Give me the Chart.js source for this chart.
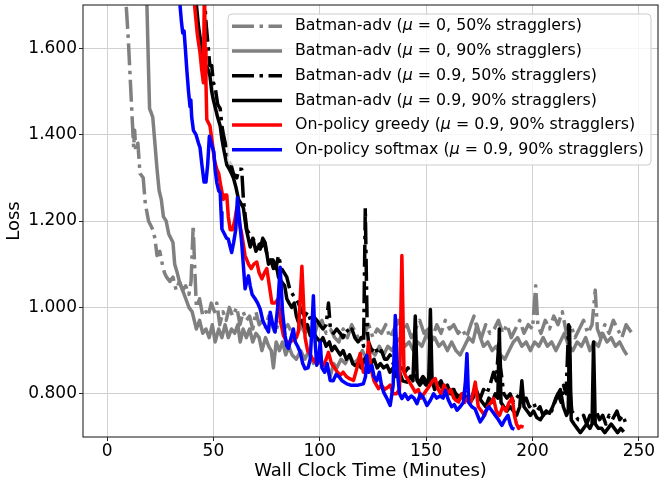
<!DOCTYPE html>
<html>
<head>
<meta charset="utf-8">
<script src="https://cdn.jsdelivr.net/npm/chart.js@4/dist/chart.umd.min.js"></script>
<style>
  html, body { margin: 0; padding: 0; background: #fff; }
  canvas { display: block; }
</style>
</head>
<body>
<canvas id="lossChart" width="665" height="488"></canvas>
<script>
const xTicks = [0, 50, 100, 150, 200, 250];
const yTicks = [0.8, 1.0, 1.2, 1.4, 1.6];

const seriesLabels = [
  "Batman-adv (μ = 0, 50% stragglers)",
  "Batman-adv (μ = 0, 90% stragglers)",
  "Batman-adv (μ = 0.9, 50% stragglers)",
  "Batman-adv (μ = 0.9, 90% stragglers)",
  "On-policy greedy (μ = 0.9, 90% stragglers)",
  "On-policy softmax (μ = 0.9, 90% stragglers)"
];

// Batman-adv, mu = 0, 50% stragglers
const mu0s50X = [8, 9, 10, 11, 12, 12.5, 13, 13.5, 14.5, 15.5, 17, 18, 19.5, 20.5, 21.5, 22.5, 23.5, 24.8, 26, 27, 28, 29.5, 31, 32.5, 34, 35.5, 37, 38.5, 39.5, 40.5, 41, 42, 43.5, 45, 46.5, 47.5, 49, 50.5, 51.6, 53, 54.5, 56, 57.5, 59, 61, 62.5, 64, 65.5, 67, 68.5, 70, 71.5, 73, 74.3, 76, 77.5, 79, 81, 83, 85, 87, 89, 91, 93, 95, 97, 99, 101, 103, 105, 107, 109, 111, 113, 115, 117, 119, 121, 123, 125, 127, 129, 131, 133, 135, 137, 139, 141, 143, 145, 147, 149, 151, 153, 155, 157, 159, 161, 163, 165, 167, 169, 171, 172.5, 174, 176, 178, 180, 182, 184, 186, 188, 190, 192, 194, 196, 198, 200, 201.5, 202.5, 204, 206, 208, 210, 212, 214, 216, 218, 220, 222, 224, 226, 228, 229.5, 230.5, 232, 234, 236, 238, 240, 242, 244, 246.8];
const mu0s50Y = [1.78, 1.70, 1.62, 1.52, 1.42, 1.37, 1.41, 1.36, 1.38, 1.31, 1.30, 1.24, 1.20, 1.19, 1.18, 1.16, 1.12, 1.13, 1.10, 1.08, 1.07, 1.06, 1.07, 1.04, 1.06, 1.04, 1.05, 1.03, 1.06, 1.19, 1.12, 1.00, 1.02, 0.98, 0.99, 0.98, 1.01, 0.99, 1.01, 0.96, 0.99, 0.97, 1.00, 0.98, 1.00, 0.96, 0.99, 0.97, 0.98, 0.95, 0.99, 0.96, 0.97, 0.95, 0.98, 0.96, 0.94, 0.97, 0.95, 0.96, 0.94, 0.93, 0.96, 0.94, 0.95, 0.93, 0.96, 0.97, 0.94, 0.95, 0.93, 0.92, 0.95, 0.93, 0.96, 0.94, 0.92, 0.94, 0.96, 0.93, 0.95, 0.94, 0.96, 0.93, 0.95, 0.97, 0.94, 0.96, 0.93, 0.95, 0.97, 0.94, 0.95, 0.93, 0.96, 0.94, 0.97, 0.95, 0.96, 0.94, 0.95, 0.93, 0.96, 0.98, 0.95, 0.93, 0.96, 0.94, 0.95, 0.97, 0.94, 0.96, 0.93, 0.95, 0.97, 0.94, 0.96, 0.95, 1.05, 0.96, 0.94, 0.97, 0.95, 0.98, 0.96, 0.99, 0.94, 0.96, 0.93, 0.95, 0.97, 0.94, 0.96, 1.04, 0.95, 0.93, 0.96, 0.94, 0.97, 0.95, 0.93, 0.96, 0.94];

// Batman-adv, mu = 0, 90% stragglers
const mu0s90X = [18.5, 19, 19.5, 20, 20.8, 21.5, 22.5, 23.5, 24.5, 25.5, 26.5, 27.8, 29, 30, 31, 31.8, 33, 34, 35.5, 37, 38.5, 40, 41, 42, 43.5, 45, 46.5, 48, 49.5, 50.8, 52.5, 54, 55.5, 57, 58.5, 60, 61.5, 62.6, 64, 65.5, 67, 68.5, 70, 71.5, 72.8, 74.5, 76, 77.2, 78.2, 79.5, 81, 82.5, 84, 85.5, 87, 89, 91, 93, 95, 97, 99, 101, 103, 104.9, 106.5, 108, 110, 112, 114, 116, 118, 120, 122, 124, 126, 128, 130, 132, 134, 136, 138, 140, 142, 144, 146, 148, 150.4, 152, 154, 156, 158, 160, 162, 164, 166, 168, 170, 172, 173.9, 175.5, 177, 179, 181, 183, 185, 187, 189, 191, 193, 195, 197, 199, 201, 203, 205, 207, 209, 211, 213, 215, 217, 219, 221, 223, 225, 227, 229, 231, 233, 235, 237, 239, 241, 243, 244.4];
const mu0s90Y = [1.75, 1.65, 1.55, 1.46, 1.45, 1.44, 1.38, 1.32, 1.27, 1.25, 1.21, 1.20, 1.17, 1.16, 1.15, 1.10, 1.08, 1.06, 1.04, 1.02, 1.00, 0.99, 0.97, 0.95, 0.97, 0.94, 0.95, 0.93, 0.96, 0.92, 0.95, 0.93, 0.96, 0.93, 0.95, 0.94, 0.96, 0.92, 0.95, 0.93, 0.95, 0.92, 0.94, 0.93, 0.90, 0.93, 0.91, 0.90, 0.86, 0.92, 0.90, 0.92, 0.89, 0.91, 0.89, 0.88, 0.90, 0.88, 0.90, 0.87, 0.89, 0.87, 0.86, 0.84, 0.87, 0.86, 0.88, 0.87, 0.89, 0.87, 0.88, 0.90, 0.88, 0.90, 0.89, 0.91, 0.89, 0.91, 0.90, 0.92, 0.93, 0.91, 0.92, 0.90, 0.92, 0.91, 0.94, 0.92, 0.93, 0.91, 0.92, 0.90, 0.92, 0.90, 0.89, 0.91, 0.93, 0.92, 0.96, 0.93, 0.91, 0.92, 0.90, 0.91, 0.89, 0.88, 0.90, 0.92, 0.93, 0.91, 0.92, 0.90, 0.92, 0.91, 0.93, 0.91, 0.92, 0.90, 0.92, 0.94, 0.91, 0.90, 0.92, 0.91, 0.93, 0.90, 0.92, 0.91, 0.94, 0.92, 0.93, 0.91, 0.92, 0.90, 0.89];

// Batman-adv, mu = 0.9, 50% stragglers
const mu9s50X = [45.5, 46.5, 47.6, 48.3, 49.2, 50, 50.8, 52, 53.2, 54, 54.7, 56, 57.1, 58.3, 59.4, 61, 62, 63.3, 64.1, 65, 65.7, 67, 68.5, 69.6, 71, 72.5, 74, 75.3, 76.7, 78, 79.3, 80.6, 82, 83.3, 84.5, 86, 87.3, 88.7, 90, 91.5, 93, 94.3, 95.7, 97, 98.6, 100, 101.5, 103, 104.1, 105, 106.5, 108, 109.6, 111, 112.5, 114, 115.1, 116.5, 118, 119.5, 120.6, 121.4, 122.3, 122.9, 124.5, 126, 127.5, 129, 130.5, 131.6, 133, 134.5, 136, 137.5, 138.6, 140, 141.5, 143, 144.5, 146, 147.2, 148.5, 150, 151.5, 153, 154.5, 156.6, 158, 159.5, 161, 162.5, 164, 166, 167.5, 169, 170.5, 172, 173.9, 175.5, 177, 178.5, 180, 181.7, 183, 184.2, 185, 186.5, 188, 189.5, 191.1, 192.5, 194, 195.5, 197, 198.5, 200.5, 202, 203.5, 205, 206.5, 207.6, 209, 210.5, 212, 213.5, 214.6, 215.8, 217, 217.8, 218.5, 220, 221.5, 222.5, 224, 225.5, 227, 228.5, 230, 231.5, 233, 234.5, 236, 237.5, 239.7, 241, 242.5, 243.6];
const mu9s50Y = [1.75, 1.66, 1.60, 1.56, 1.56, 1.52, 1.51, 1.47, 1.46, 1.42, 1.40, 1.37, 1.34, 1.33, 1.31, 1.30, 1.32, 1.32, 1.25, 1.21, 1.18, 1.17, 1.16, 1.15, 1.15, 1.14, 1.15, 1.12, 1.10, 1.11, 1.09, 1.12, 1.09, 1.08, 1.07, 1.04, 1.03, 1.02, 1.01, 0.99, 0.98, 0.99, 0.97, 0.98, 0.97, 0.96, 0.95, 0.96, 1.01, 0.95, 0.94, 0.95, 0.94, 0.93, 0.95, 0.94, 0.95, 0.93, 0.92, 0.93, 0.91, 1.23, 0.95, 0.92, 0.90, 0.91, 0.89, 0.90, 0.88, 0.88, 0.89, 0.87, 0.88, 0.86, 0.86, 0.85, 0.86, 0.84, 0.85, 0.83, 0.83, 0.84, 0.83, 0.82, 0.84, 0.82, 0.82, 0.81, 0.82, 0.80, 0.81, 0.80, 0.79, 0.80, 0.81, 0.79, 0.80, 0.80, 0.79, 0.81, 0.80, 0.82, 0.85, 0.83, 0.92, 0.86, 0.80, 0.79, 0.80, 0.78, 0.79, 0.80, 0.78, 0.79, 0.77, 0.78, 0.76, 0.77, 0.75, 0.76, 0.75, 0.76, 0.78, 0.80, 0.78, 0.82, 0.80, 0.96, 0.80, 0.76, 0.75, 0.74, 0.74, 0.75, 0.73, 0.75, 0.74, 0.76, 0.74, 0.75, 0.73, 0.75, 0.74, 0.76, 0.74, 0.75, 0.735];

// Batman-adv, mu = 0.9, 90% stragglers
const mu9s90X = [41, 42, 43, 44.5, 45.3, 46.5, 47.5, 48.4, 49.2, 50, 51, 52, 53.2, 54, 54.7, 55.5, 56.3, 57.5, 58.5, 59.4, 60.5, 61.8, 63, 64.1, 65.5, 67.3, 68.5, 70, 71, 72, 73.2, 74.3, 75.9, 77, 78.2, 79.5, 80.6, 82, 83.5, 84.5, 85.6, 86.8, 88, 89, 90, 91.5, 93, 94.2, 95.5, 97, 98.5, 100.2, 101.5, 103, 104.5, 105.7, 107, 108.3, 109.6, 111, 112.5, 114, 115.5, 116.7, 118, 119.5, 121, 122.5, 124, 125.5, 127, 128.5, 130, 131.6, 133, 134.5, 136, 137.5, 139, 141, 142.5, 143.8, 144.9, 145.8, 147, 148.5, 150, 151.2, 152, 152.8, 154, 155.5, 157, 158.5, 160, 161.5, 163, 164.5, 166, 167.5, 169, 170.5, 172, 173.5, 175, 176.5, 178, 179.5, 181, 182.5, 183.7, 184.4, 185.2, 186.5, 188, 189.5, 191, 192.5, 194, 195, 196, 197.5, 199, 200.5, 202, 203.7, 205, 206.5, 208, 209.5, 211, 212, 213.1, 214.5, 216, 216.8, 217.4, 218.2, 219.5, 221, 222.5, 224, 225.5, 227, 228, 228.7, 229.5, 231, 232.5, 234, 235.5, 237, 238.5, 240, 241.5, 242.9];
const mu9s90Y = [1.75, 1.70, 1.65, 1.60, 1.58, 1.56, 1.55, 1.535, 1.50, 1.48, 1.46, 1.44, 1.42, 1.39, 1.37, 1.35, 1.33, 1.32, 1.31, 1.30, 1.28, 1.25, 1.24, 1.23, 1.18, 1.14, 1.16, 1.13, 1.14, 1.135, 1.16, 1.15, 1.10, 1.11, 1.09, 1.10, 1.07, 1.06, 1.05, 1.02, 1.01, 1.00, 1.01, 0.98, 0.965, 0.97, 0.95, 0.96, 0.935, 0.94, 0.93, 0.92, 0.93, 0.91, 0.92, 0.90, 0.91, 0.90, 0.89, 0.90, 0.88, 0.89, 0.87, 0.865, 0.87, 0.86, 0.88, 0.89, 0.87, 0.88, 0.86, 0.87, 0.86, 0.866, 0.85, 0.86, 0.84, 0.85, 0.83, 0.827, 0.84, 0.83, 0.98, 0.83, 0.82, 0.83, 0.82, 0.83, 0.995, 0.83, 0.81, 0.82, 0.83, 0.81, 0.82, 0.80, 0.81, 0.79, 0.796, 0.80, 0.79, 0.78, 0.79, 0.81, 0.79, 0.78, 0.77, 0.79, 0.78, 0.80, 0.79, 0.95, 0.78, 0.77, 0.76, 0.77, 0.76, 0.75, 0.77, 0.83, 0.77, 0.76, 0.75, 0.76, 0.745, 0.74, 0.75, 0.76, 0.755, 0.77, 0.79, 0.80, 0.81, 0.77, 0.75, 0.76, 0.955, 0.74, 0.73, 0.72, 0.71, 0.72, 0.73, 0.72, 0.73, 0.92, 0.73, 0.72, 0.72, 0.71, 0.72, 0.73, 0.72, 0.71, 0.72, 0.712];

// On-policy greedy
const greedyX = [40.3, 41.5, 42.5, 43.7, 44.5, 45.3, 45.8, 46.1, 46.5, 46.9, 48.4, 49.5, 50.5, 51.6, 52.5, 53.5, 54.7, 55.5, 56.3, 57, 57.9, 59, 60, 61, 62, 63.3, 64.9, 66.5, 67.8, 69, 70.4, 71.5, 72.8, 74, 75.1, 76.3, 77.5, 79, 80.5, 81.5, 82.9, 84.5, 86.1, 87.5, 89, 90, 91.6, 93.1, 94.3, 95.5, 96.7, 97.8, 99, 100.5, 101.8, 103, 104.1, 105.5, 107, 108.3, 109.6, 111, 112.5, 114, 115.9, 117.5, 119, 120.5, 122, 122.9, 124, 125.5, 127.6, 129, 130.5, 132, 133.1, 134.5, 136, 137.5, 138.6, 139.6, 140.5, 141.8, 143, 144.9, 146.3, 147.6, 149, 150.4, 151.8, 153, 154.3, 155.7, 157, 158.5, 160, 161.5, 163, 164, 165.3, 166.7, 168, 169.5, 171, 172, 173.1, 174.5, 176, 177.5, 179, 180.5, 181.7, 183, 184.5, 186, 187.5, 189, 190.5, 191.5, 192.5, 193.5, 194.5, 195.8];
const greedyY = [1.75, 1.68, 1.63, 1.59, 1.55, 1.52, 1.76, 1.60, 1.52, 1.435, 1.42, 1.38, 1.34, 1.32, 1.31, 1.28, 1.25, 1.26, 1.26, 1.21, 1.18, 1.18, 1.20, 1.23, 1.20, 1.17, 1.12, 1.10, 1.09, 1.10, 1.105, 1.08, 1.066, 1.08, 1.09, 1.05, 1.01, 1.01, 1.02, 0.97, 0.935, 0.92, 0.92, 0.925, 0.93, 0.945, 1.095, 0.93, 0.90, 0.89, 0.88, 0.873, 0.89, 0.87, 0.866, 0.88, 0.896, 0.87, 0.86, 0.85, 0.843, 0.85, 0.84, 0.835, 0.831, 0.86, 0.893, 0.85, 0.86, 0.92, 0.86, 0.83, 0.812, 0.82, 0.81, 0.815, 0.82, 0.80, 0.80, 0.81, 1.12, 0.85, 0.84, 0.83, 0.82, 0.804, 0.81, 0.79, 0.80, 0.81, 0.82, 0.83, 0.835, 0.81, 0.80, 0.82, 0.80, 0.81, 0.79, 0.785, 0.781, 0.80, 0.78, 0.79, 0.78, 0.80, 0.827, 0.77, 0.76, 0.75, 0.77, 0.78, 0.789, 0.76, 0.75, 0.77, 0.76, 0.78, 0.79, 0.75, 0.73, 0.72, 0.725, 0.723];

// On-policy softmax
const softmaxX = [34.3, 35, 35.6, 36.2, 36.8, 37.5, 38.3, 39, 39.4, 39.8, 40.6, 41.8, 43, 43.7, 44.6, 45.6, 46.5, 47.3, 48.1, 49, 50.2, 50.8, 51.6, 52.5, 53.2, 53.6, 54, 55.2, 56.2, 57, 57.9, 58.6, 59.5, 60.5, 61.3, 62.3, 63.3, 64.1, 64.9, 65.7, 66.5, 67.3, 68.2, 69.6, 70.8, 72, 73.2, 74.3, 75.9, 76.7, 77.9, 79, 80.2, 81.4, 82.5, 83.7, 84.5, 85.3, 86.5, 87.6, 88.5, 89.6, 90.8, 92, 93.1, 94.5, 95.5, 96.3, 97, 97.8, 98.6, 99.5, 100.2, 101, 102.3, 103.5, 104.9, 106.3, 107.7, 109, 110.5, 112.7, 114.5, 116, 118, 120.5, 121.5, 122.1, 123, 124.5, 125.5, 126.8, 128, 129, 130, 131.5, 133.1, 134.5, 135.5, 136.5, 137.5, 138.6, 140, 141.5, 143, 144.3, 145.7, 147.3, 148.8, 150.4, 152, 153.5, 155, 156.5, 158, 159, 160.5, 162, 163.2, 164.5, 166, 167.5, 168.5, 169.2, 170, 171.5, 173, 174.2, 175.4, 176.8, 178, 179.5, 181, 182.5, 184, 185.6, 187, 188.5, 189.5, 190.4, 191.5];
const softmaxY = [1.70, 1.66, 1.635, 1.64, 1.60, 1.55, 1.50, 1.465, 1.48, 1.44, 1.41, 1.40, 1.38, 1.37, 1.33, 1.29, 1.29, 1.33, 1.396, 1.38, 1.36, 1.32, 1.289, 1.27, 1.266, 1.22, 1.181, 1.17, 1.16, 1.158, 1.14, 1.127, 1.15, 1.18, 1.254, 1.20, 1.15, 1.096, 1.043, 1.06, 1.073, 1.05, 1.03, 1.02, 1.01, 0.996, 0.97, 0.958, 0.943, 0.989, 0.96, 0.943, 1.00, 1.093, 0.99, 0.935, 0.91, 0.905, 0.93, 0.95, 0.92, 0.91, 0.896, 0.87, 0.858, 0.86, 0.88, 0.95, 1.027, 0.92, 0.866, 0.88, 0.92, 0.86, 0.85, 0.87, 0.831, 0.83, 0.845, 0.84, 0.83, 0.823, 0.82, 0.82, 0.82, 0.823, 0.84, 0.889, 0.85, 0.866, 0.84, 0.83, 0.85, 0.82, 0.804, 0.79, 0.773, 0.82, 0.981, 0.85, 0.80, 0.789, 0.80, 0.787, 0.795, 0.79, 0.777, 0.80, 0.79, 0.773, 0.785, 0.80, 0.79, 0.795, 0.79, 0.808, 0.785, 0.77, 0.775, 0.762, 0.77, 0.78, 0.83, 0.893, 0.78, 0.77, 0.765, 0.75, 0.735, 0.745, 0.76, 0.77, 0.76, 0.75, 0.74, 0.727, 0.74, 0.75, 0.73, 0.72, 0.718];

const seriesX = [mu0s50X, mu0s90X, mu9s50X, mu9s90X, greedyX, softmaxX];
const seriesY = [mu0s50Y, mu0s90Y, mu9s50Y, mu9s90Y, greedyY, softmaxY];
const seriesColors = ["#808080", "#808080", "#000000", "#000000", "#ff0000", "#0000ff"];
const dashDot = [22, 5.5, 3.5, 5.5];
const seriesDash = [dashDot, [], dashDot, [], [], []];

const FONT = "'DejaVu Sans', 'Liberation Sans', sans-serif";

const datasets = seriesLabels.map((label, i) => ({
  label: label,
  data: seriesX[i].map((x, j) => ({ x: x, y: seriesY[i][j] })),
  borderColor: seriesColors[i],
  borderDash: seriesDash[i],
  borderWidth: 3.5,
  borderJoinStyle: "round",
  pointRadius: 0,
  tension: 0,
  fill: false,
  clip: 0,
  order: seriesLabels.length - i
}));

// box round the axes, drawn over the lines like matplotlib spines
const framePlugin = {
  id: "frame",
  afterDatasetsDraw(chart) {
    const a = chart.chartArea;
    const ctx = chart.ctx;
    ctx.save();
    ctx.strokeStyle = "#262626";
    ctx.lineWidth = 1.1;
    ctx.strokeRect(a.left, a.top, a.right - a.left, a.bottom - a.top);
    ctx.restore();
  }
};

// legend in the upper right corner, with an italic mu
const legendPlugin = {
  id: "boxLegend",
  afterDraw(chart) {
    const ctx = chart.ctx;
    const box = { x: 228, y: 14, w: 423, h: 151 };
    ctx.save();
    ctx.beginPath();
    ctx.roundRect(box.x, box.y, box.w, box.h, 4);
    ctx.fillStyle = "rgba(255,255,255,0.8)";
    ctx.fill();
    ctx.strokeStyle = "#cccccc";
    ctx.lineWidth = 1;
    ctx.stroke();

    const fontSize = 15.8;
    chart.data.datasets.forEach((ds, i) => {
      const y = 26.3 + i * 24.7;
      ctx.beginPath();
      ctx.setLineDash(ds.borderDash);
      ctx.strokeStyle = ds.borderColor;
      ctx.lineWidth = ds.borderWidth;
      ctx.moveTo(232, y);
      ctx.lineTo(282, y);
      ctx.stroke();
      ctx.setLineDash([]);

      ctx.fillStyle = "#000";
      ctx.textBaseline = "middle";
      ctx.textAlign = "left";
      const parts = ds.label.split("μ");
      let x = 295;
      parts.forEach((p, k) => {
        ctx.font = fontSize + "px " + FONT;
        ctx.fillText(p, x, y);
        x += ctx.measureText(p).width;
        if (k < parts.length - 1) {
          ctx.font = "italic " + fontSize + "px " + FONT;
          ctx.fillText("μ", x, y);
          x += ctx.measureText("μ").width;
        }
      });
    });
    ctx.restore();
  }
};

new Chart(document.getElementById("lossChart"), {
  type: "line",
  data: { datasets: datasets },
  options: {
    responsive: false,
    animation: false,
    devicePixelRatio: 1,
    layout: { padding: { top: 5, right: 7, left: 0, bottom: 0 } },
    plugins: {
      legend: { display: false },
      tooltip: { enabled: false }
    },
    scales: {
      x: {
        type: "linear",
        min: -11.3,
        max: 259,
        afterFit(scale) {
          scale.height = 51;
          scale.paddingLeft = 0;
          scale.paddingRight = 0;
        },
        afterBuildTicks(scale) { scale.ticks = xTicks.map(v => ({ value: v })); },
        grid: { color: "#d0d0d0", lineWidth: 1, tickLength: 4, tickColor: "#262626" },
        border: { display: false },
        ticks: {
          color: "#000",
          padding: 0,
          maxRotation: 0,
          font: { family: FONT, size: 17 },
          callback: v => String(v)
        },
        title: {
          display: true,
          text: "Wall Clock Time (Minutes)",
          color: "#000",
          font: { family: FONT, size: 18 },
          padding: { top: 0, bottom: 6 }
        }
      },
      y: {
        type: "linear",
        min: 0.7,
        max: 1.7,
        afterFit(scale) {
          scale.width = 83;
          scale.paddingTop = 0;
          scale.paddingBottom = 0;
        },
        afterBuildTicks(scale) { scale.ticks = yTicks.map(v => ({ value: v })); },
        grid: { color: "#d0d0d0", lineWidth: 1, tickLength: 4, tickColor: "#262626" },
        border: { display: false },
        ticks: {
          color: "#000",
          padding: 2,
          font: { family: FONT, size: 17 },
          callback: v => v.toFixed(3)
        },
        title: {
          display: true,
          text: "Loss",
          color: "#000",
          font: { family: FONT, size: 18 },
          padding: { top: 4, bottom: 0 }
        }
      }
    }
  },
  plugins: [framePlugin, legendPlugin]
});
</script>
</body>
</html>
